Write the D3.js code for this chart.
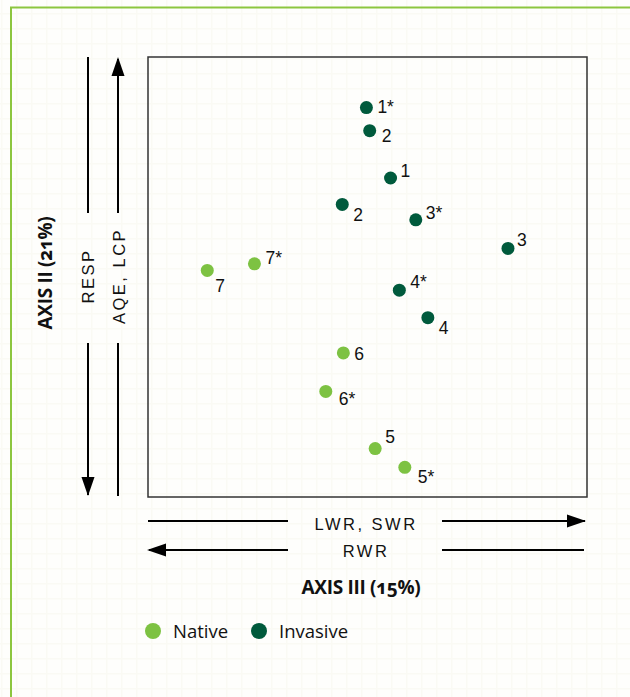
<!DOCTYPE html>
<html>
<head>
<meta charset="utf-8">
<script src="https://cdnjs.cloudflare.com/ajax/libs/d3/7.8.5/d3.min.js"></script>
<style>
  html, body { margin: 0; padding: 0; background: #fefefc; }
  svg { display: block; }
</style>
</head>
<body>
<div id="chart"></div>
<script>
// ordination scores (axis III = x, axis II = y)
const invasiveLabels = ['1*', '2', '1', '2', '3*', '3', '4*', '4'];
const invasiveX = [-0.01, 0.02, 0.21, -0.23, 0.44, 1.28, 0.29, 0.55];
const invasiveY = [1.54, 1.33, 0.90, 0.66, 0.52, 0.26, -0.12, -0.37];

const nativeLabels = ['7*', '7', '6', '6*', '5', '5*'];
const nativeX = [-1.03, -1.46, -0.22, -0.38, 0.07, 0.34];
const nativeY = [0.12, 0.06, -0.69, -1.04, -1.56, -1.73];

const xTitle = 'AXIS III (15%)';
const yTitle = 'AXIS II (21%)';
const xPosText = 'LWR, SWR';
const xNegText = 'RWR';
const yPosText = 'AQE, LCP';
const yNegText = 'RESP';
const legendNames = ['Native', 'Invasive'];

// label placement next to each dot (layout only)
const invasiveLabelOffsets = [[11, 5], [12, 11], [10, -1], [11, 17], [10, -1], [9, -2], [11, -2], [11, 16]];
const nativeLabelOffsets = [[11, 0], [8, 22], [11, 7], [13, 14], [10, -6], [13, 16]];

const colors = { Native: '#7dc242', Invasive: '#005a3c' };

const W = 630, H = 697;
const box = { left: 148, right: 587, top: 57, bottom: 497 };

const svg = d3.select('#chart').append('svg')
  .attr('width', W)
  .attr('height', H);

// very faint graph-paper background
const defs = svg.append('defs');
const pat = defs.append('pattern')
  .attr('id', 'grid')
  .attr('width', 15).attr('height', 15)
  .attr('x', 1).attr('y', 13)
  .attr('patternUnits', 'userSpaceOnUse');
pat.append('rect').attr('width', 15).attr('height', 15).attr('fill', '#fefefc');
pat.append('path').attr('d', 'M0,0.75H15M0.75,0V15')
  .attr('stroke', '#fafaf4').attr('stroke-width', 1.5).attr('fill', 'none');
svg.append('rect').attr('width', W).attr('height', H).attr('fill', 'url(#grid)');

// green frame
svg.append('path')
  .attr('d', 'M11,' + (H + 5) + 'V7.5H' + (W + 5))
  .attr('fill', 'none')
  .attr('stroke', '#8cc63f')
  .attr('stroke-width', 2);

const x = d3.scaleLinear().domain([-2, 2]).range([box.left, box.right]);
const y = d3.scaleLinear().domain([-2, 2]).range([box.bottom, box.top]);

// plot frame
svg.append('rect')
  .attr('x', x(-2)).attr('y', y(2))
  .attr('width', x(2) - x(-2)).attr('height', y(-2) - y(2))
  .attr('fill', 'none')
  .attr('stroke', '#333')
  .attr('stroke-width', 1.5);

// arrow helpers
function arrowLine(x1, y1, x2, y2, gapA, gapB, head) {
  const g = svg.append('g');
  const horizontal = y1 === y2;
  if (horizontal) {
    g.append('line').attr('x1', x1).attr('y1', y1).attr('x2', gapA).attr('y2', y1);
    g.append('line').attr('x1', gapB).attr('y1', y1).attr('x2', x2).attr('y2', y2);
  } else {
    g.append('line').attr('x1', x1).attr('y1', y1).attr('x2', x1).attr('y2', gapA);
    g.append('line').attr('x1', x1).attr('y1', gapB).attr('x2', x2).attr('y2', y2);
  }
  g.selectAll('line').attr('stroke', '#000').attr('stroke-width', 2);
  if (head) {
    const [tx, ty, dir] = head;
    const L = 19, hw = 6.5;
    let pts;
    if (dir === 'up') pts = [[tx, ty], [tx - hw, ty + L], [tx + hw, ty + L]];
    if (dir === 'down') pts = [[tx, ty], [tx - hw, ty - L], [tx + hw, ty - L]];
    if (dir === 'right') pts = [[tx, ty], [tx - L, ty - hw], [tx - L, ty + hw]];
    if (dir === 'left') pts = [[tx, ty], [tx + L, ty - hw], [tx + L, ty + hw]];
    g.append('polygon').attr('points', pts.map(p => p.join(',')).join(' ')).attr('fill', '#000');
  }
}

const yGapA = 213, yGapB = 343;
arrowLine(88, box.top, 88, box.bottom - 2, yGapA, yGapB, [88, box.bottom - 1, 'down']);
arrowLine(118, box.bottom - 1, 118, box.top + 2, yGapB, yGapA, [118, box.top, 'up']);

const xGapA = 288, xGapB = 442;
arrowLine(box.left, 521, box.right - 2, 521, xGapA, xGapB, [box.right - 1, 521, 'right']);
arrowLine(box.left + 1, 550, box.right - 3, 550, xGapA, xGapB, [box.left - 1, 550, 'left']);

// axis direction texts
const dirFont = '"Liberation Sans", Arial, sans-serif';
function dirText(tx, ty, txt, rotate) {
  svg.append('text')
    .attr('transform', 'translate(' + tx + ',' + ty + ')' + (rotate ? ' rotate(-90)' : ''))
    .attr('text-anchor', 'middle')
    .attr('font-family', dirFont)
    .attr('font-size', 16.5)
    .attr('letter-spacing', 2.5)
    .attr('fill', '#111')
    .text(txt);
}
dirText(94, 276, yNegText, true);
dirText(125, 276, yPosText, true);
dirText(366, 530, xPosText, false);
dirText(366, 557, xNegText, false);

// axis titles
const titleFont = '"Open Sans", "Noto Sans", sans-serif';
svg.append('text')
  .attr('x', 361).attr('y', 594)
  .attr('text-anchor', 'middle')
  .attr('font-family', titleFont)
  .attr('font-weight', 700)
  .attr('font-size', 19)
  .attr('letter-spacing', -0.3)
  .style('font-variant-numeric', 'oldstyle-nums')
  .attr('fill', '#111')
  .text(xTitle);
svg.append('text')
  .attr('transform', 'translate(52,273) rotate(-90)')
  .attr('text-anchor', 'middle')
  .attr('font-family', titleFont)
  .attr('font-weight', 700)
  .attr('font-size', 19)
  .attr('letter-spacing', -0.3)
  .style('font-variant-numeric', 'oldstyle-nums')
  .attr('fill', '#111')
  .text(yTitle);

// points
const points = [];
invasiveLabels.forEach((l, i) => points.push({ group: 'Invasive', label: l, x: invasiveX[i], y: invasiveY[i], off: invasiveLabelOffsets[i] }));
nativeLabels.forEach((l, i) => points.push({ group: 'Native', label: l, x: nativeX[i], y: nativeY[i], off: nativeLabelOffsets[i] }));

svg.selectAll('circle.pt')
  .data(points)
  .enter()
  .append('circle')
  .attr('class', 'pt')
  .attr('cx', d => x(d.x))
  .attr('cy', d => y(d.y))
  .attr('r', 6.5)
  .attr('fill', d => colors[d.group]);

svg.selectAll('text.lbl')
  .data(points)
  .enter()
  .append('text')
  .attr('class', 'lbl')
  .attr('x', d => x(d.x) + d.off[0])
  .attr('y', d => y(d.y) + d.off[1])
  .attr('font-family', dirFont)
  .attr('font-size', 17.5)
  .attr('fill', '#111')
  .text(d => d.label);

// legend
const legendX = [153, 259];
const legend = svg.selectAll('g.legend')
  .data(legendNames)
  .enter()
  .append('g')
  .attr('class', 'legend')
  .attr('transform', (d, i) => 'translate(' + legendX[i] + ',631)');
legend.append('circle').attr('r', 8).attr('fill', d => colors[d]);
legend.append('text')
  .attr('x', 20).attr('y', 6.5)
  .attr('font-family', titleFont)
  .attr('font-size', 18.5)
  .attr('fill', '#111')
  .text(d => d);
</script>
</body>
</html>
